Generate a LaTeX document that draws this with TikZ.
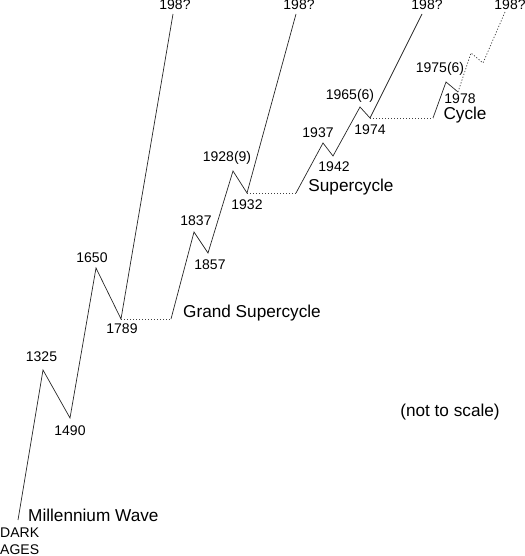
\documentclass[tikz,border=0pt]{standalone}
\usepackage{fontspec}
\setmainfont{Liberation Sans}
\begin{document}
\begin{tikzpicture}[x=1pt,y=-1pt,
  wave/.style={line width=0.7pt, black!85},
  dotwave/.style={line width=0.7pt, black!75, dash pattern=on 1.2pt off 1.8pt},
  lbl/.style={font=\fontsize{14}{14}\selectfont, inner sep=0pt},
  big/.style={font=\fontsize{17.2}{17.2}\selectfont, inner sep=0pt}]
\useasboundingbox (0,0) rectangle (524,556);
% Millennium wave
\coordinate (m0) at (18,520);
\coordinate (m1) at (43,370);
\coordinate (m2) at (70,418);
\coordinate (m3) at (96,268);
\coordinate (m4) at (121,319);
\coordinate (m5) at (173,14);
% Grand supercycle
\coordinate (g0) at (171,319);
\coordinate (g1) at (194,232);
\coordinate (g2) at (208,253);
\coordinate (g3) at (233,171);
\coordinate (g4) at (247,193);
\coordinate (g5) at (296,14);
% Supercycle
\coordinate (s0) at (296,193);
\coordinate (s1) at (323,143);
\coordinate (s2) at (333,156);
\coordinate (s3) at (360,107);
\coordinate (s4) at (370,118);
\coordinate (s5) at (422,14);
% Cycle
\coordinate (c0) at (433,118);
\coordinate (c1) at (446,82);
\coordinate (c2) at (458,92);
\coordinate (c3) at (471,53);
\coordinate (c4) at (483,63);
\coordinate (c5) at (505,12);

\draw[wave] (m0) -- (m1) -- (m2) -- (m3) -- (m4) -- (m5);
\draw[dotwave] (m4) -- (g0);
\draw[wave] (g0) -- (g1) -- (g2) -- (g3) -- (g4) -- (g5);
\draw[dotwave] (g4) -- (s0);
\draw[wave] (s0) -- (s1) -- (s2) -- (s3) -- (s4) -- (s5);
\draw[dotwave] (s4) -- (c0);
\draw[wave] (c0) -- (c1) -- (c2);
\draw[dotwave] (c2) -- (c3) -- (c4) -- (c5);

% labels
\node[lbl] (t1) at (175,4.5) {198?};
\node[lbl] (t2) at (299,4.5) {198?};
\node[lbl] (t3) at (427,4.5) {198?};
\node[lbl] (t4) at (510,4.5) {198?};
\node[lbl] (l1325) at (41.5,357) {1325};
\node[lbl] (l1490) at (70,431) {1490};
\node[lbl] (l1650) at (92,258) {1650};
\node[lbl] (l1789) at (122,329) {1789};
\node[lbl] (l1837) at (196,221) {1837};
\node[lbl] (l1857) at (210,265) {1857};
\node[lbl] (l1928) at (227,158) {1928(9)};
\node[lbl] (l1932) at (247,205) {1932};
\node[lbl] (l1937) at (318,133) {1937};
\node[lbl] (l1942) at (334,167) {1942};
\node[lbl] (l1965) at (350,96) {1965(6)};
\node[lbl] (l1974) at (370,130) {1974};
\node[lbl] (l1975) at (440,69) {1975(6)};
\node[lbl] (l1978) at (460,99) {1978};
\node[big] (cyc) at (465,115) {Cycle};
\node[big] (sup) at (351,187) {Supercycle};
\node[big] (gsc) at (252,313) {Grand Supercycle};
\node[big, anchor=west] (mil) at (28,515) {Millennium Wave};
\node[lbl, anchor=west] (dark) at (0,533) {DARK};
\node[lbl, anchor=west] (ages) at (0,550) {AGES};
\node[big] (nts) at (450,412) {(not to scale)};
\end{tikzpicture}
\end{document}
